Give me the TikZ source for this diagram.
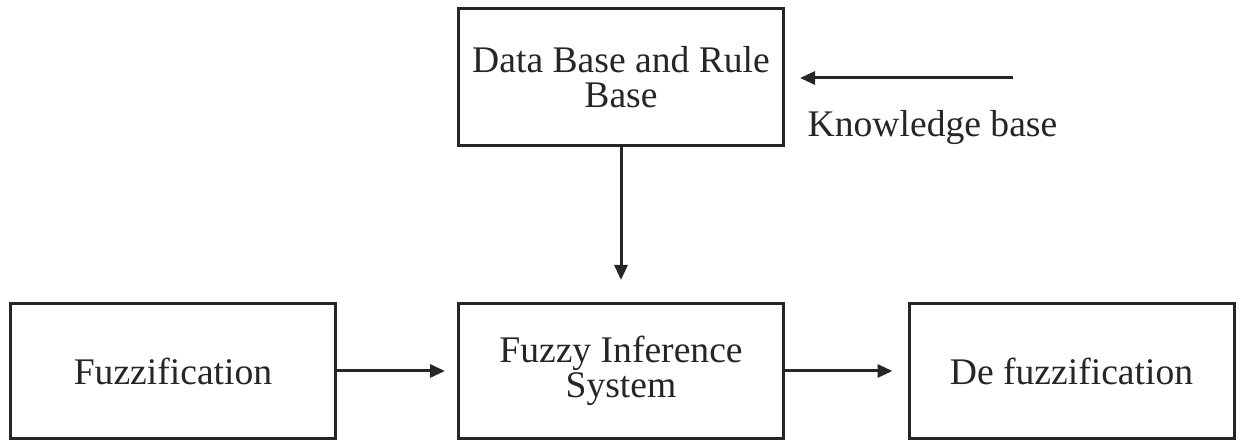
\documentclass[tikz,border=0pt]{standalone}
\usepackage{fontspec}
\setmainfont{Liberation Serif}
\usetikzlibrary{arrows.meta}
\begin{document}
\begin{tikzpicture}[x=0.5pt,y=-0.5pt,
  block/.style={draw=black!85, line width=1.5pt, minimum width=162.5pt,
    minimum height=67.5pt, align=center, inner sep=0pt,
    font=\fontsize{18.8}{17.5}\selectfont, text=black!85},
  arr/.style={draw=black!85, line width=1.5pt,
    -{Triangle[length=7.5pt,width=6.5pt]}},
  lbl/.style={font=\fontsize{18.8}{17.5}\selectfont, text=black!85, inner sep=0pt}]
  \useasboundingbox (0,0) rectangle (1241,442);
  % blocks
  \node[block, minimum height=68.5pt] (db)  at (621,77.5) {Data Base and Rule\\Base};
  \node[block] (fz)  at (173,371)  {Fuzzification};
  \node[block] (fis) at (621,371)  {Fuzzy Inference\\System};
  \node[block] (dfz) at (1071.5,371) {De fuzzification};
  % knowledge input
  \coordinate (ks) at (1013,78);
  \coordinate (ke) at (800,78);
  \draw[arr] (ks) -- (ke);
  \node[lbl] (kb) at (932.5,128) {Knowledge base};
  % flow connectors
  \draw[arr, shorten >=11pt] (db.south) -- (fis.north);
  \draw[arr, shorten >=6pt] (fz.east) -- (fis.west);
  \draw[arr, shorten >=7.5pt] (fis.east) -- (dfz.west);
\end{tikzpicture}
\end{document}
